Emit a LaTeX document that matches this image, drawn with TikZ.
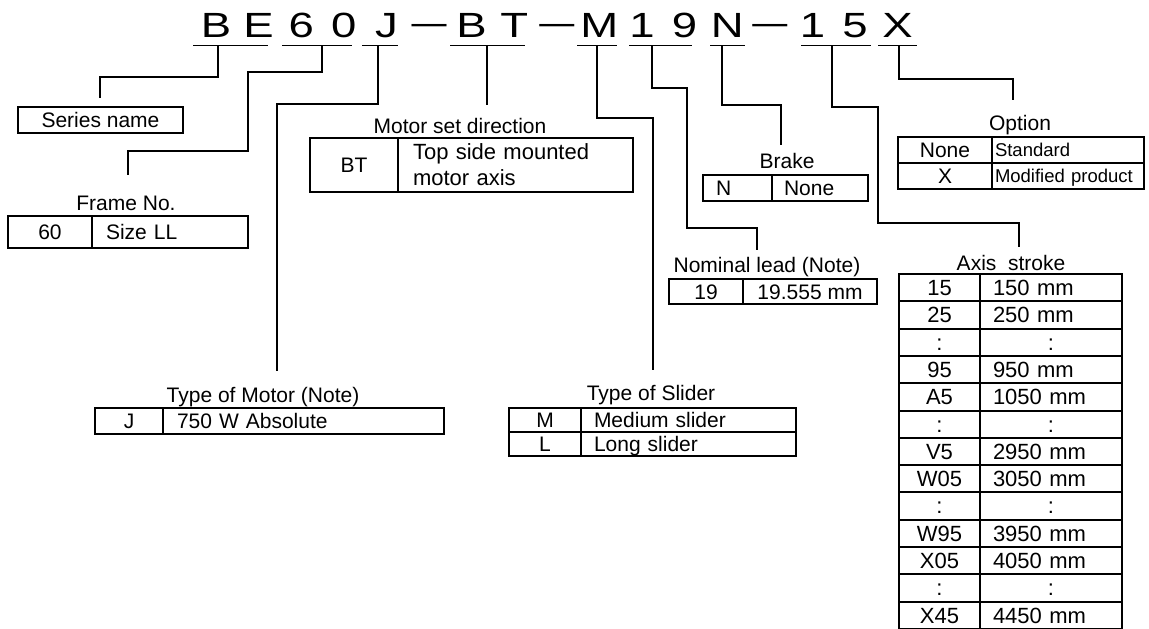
\documentclass[tikz,border=0pt]{standalone}
\usepackage{fontspec}
\setmainfont{Liberation Sans}
\newcommand\lblf{\fontsize{21}{25}\selectfont}
\newcommand\tabf{\fontsize{22}{26}\selectfont}
\newcommand\smlf{\fontsize{18.5}{22}\selectfont}
\newcommand\codef{\fontsize{35}{40}\selectfont}
\newcommand\wide[1]{\scalebox{1.3}[1]{#1}}
\newcommand\ccol{\makebox[116pt]{:}}
\begin{document}
\begin{tikzpicture}[x=1pt,y=-1pt,
  cellbase/.style={draw, line width=2pt, inner sep=0pt, anchor=north west, font=\lblf},
  box/.style={cellbase, text height=15pt, text depth=0pt},
  tbox/.style={cellbase, font=\tabf, text height=15.8pt, text depth=0pt},
  lbl/.style={anchor=base, inner sep=0pt, font=\lblf},
  code/.style={anchor=base, inner sep=0pt, font=\codef},
  leader/.style={line width=1.5pt},
  uline/.style={line width=1.7pt}]
\useasboundingbox[fill=white] (0,0) rectangle (1149,629);

% ---- code string
\node[code] (c0)  at (216.0,37) {\wide{B}};
\node[code] (c1)  at (258.6,37) {\wide{E}};
\node[code] (c2)  at (301.2,37) {\wide{6}};
\node[code] (c3)  at (343.8,37) {\wide{0}};
\node[code] (c4)  at (386.4,37) {\wide{J}};
\node[code] (c5)  at (429.0,37) {\raisebox{2.5pt}{---}};
\node[code] (c6)  at (471.6,37) {\wide{B}};
\node[code] (c7)  at (514.2,37) {\wide{T}};
\node[code] (c8)  at (556.8,37) {\raisebox{2.5pt}{---}};
\node[code] (c9)  at (599.4,37) {\wide{M}};
\node[code] (c10) at (642.0,37) {\wide{1}};
\node[code] (c11) at (684.6,37) {\wide{9}};
\node[code] (c12) at (727.2,37) {\wide{N}};
\node[code] (c13) at (769.8,37) {\raisebox{2.5pt}{---}};
\node[code] (c14) at (812.4,37) {\wide{1}};
\node[code] (c15) at (855.0,37) {\wide{5}};
\node[code] (c16) at (897.6,37) {\wide{X}};

% ---- underlines
\draw[uline] (193,45.5) -- (268,45.5);
\draw[uline] (282,45.5) -- (352,45.5);
\draw[uline] (362,45.5) -- (398,45.5);
\draw[uline] (450,45.5) -- (525,45.5);
\draw[uline] (577,45.5) -- (617,45.5);
\draw[uline] (629,45.5) -- (692,45.5);
\draw[uline] (710,45.5) -- (745,45.5);
\draw[uline] (801,45.5) -- (871,45.5);
\draw[uline] (878,45.5) -- (917,45.5);

% ---- Series name
\node[box, minimum width=165pt, minimum height=26pt] (ser) at (17,106) {Series name};

% ---- Frame No.
\node[lbl] (frlbl) at (126,210) {Frame No.};
\node[box, minimum width=84pt, minimum height=32pt] (fr1) at (7,215) {60};
\node[box, minimum width=156pt, minimum height=32pt, align=left, inner xsep=14pt, text width=128pt] (fr2) at (91,215) {Size LL};

% ---- Motor set direction
\node[lbl] (btlbl) at (460,133) {Motor set direction};
\node[box, minimum width=88pt, minimum height=54pt] (bt1) at (309,137) {BT};
\node[cellbase, font=\fontsize{22}{26}\selectfont, minimum width=235pt, minimum height=54pt, align=left, inner xsep=15pt, text width=205pt] (bt2) at (397,137) {Top side mounted\\motor axis};

% ---- Type of Motor
\node[lbl] (mlbl) at (263,402) {Type of Motor (Note)};
\node[box, minimum width=68pt, minimum height=26pt] (m1) at (94,407) {J};
\node[box, minimum width=281pt, minimum height=26pt, align=left, inner xsep=14pt, text width=253pt] (m2) at (162,407) {750 W Absolute};

% ---- Type of Slider
\node[lbl] (slbl) at (651,400) {Type of Slider};
\node[box, minimum width=72pt, minimum height=24pt] (s1) at (508,407) {M};
\node[box, minimum width=215pt, minimum height=24pt, align=left, inner xsep=13pt, text width=189pt] (s2) at (580,407) {Medium slider};
\node[box, minimum width=72pt, minimum height=24pt] (s3) at (508,431) {L};
\node[box, minimum width=215pt, minimum height=24pt, align=left, inner xsep=13pt, text width=189pt] (s4) at (580,431) {Long slider};

% ---- Nominal lead
\node[lbl] (nlbl) at (767,272) {Nominal lead (Note)};
\node[box, minimum width=74pt, minimum height=25pt] (n1) at (668,278) {19};
\node[box, minimum width=134pt, minimum height=25pt] (n2) at (742,278) {19.555 mm};

% ---- Brake
\node[lbl] (klbl) at (787,168) {Brake};
\node[box, minimum width=69pt, minimum height=26pt, align=left, inner xsep=13pt, text width=43pt] (k1) at (702,174) {N};
\node[box, minimum width=96pt, minimum height=26pt, align=left, inner xsep=12pt, text width=72pt] (k2) at (771,174) {None};

% ---- Option
\node[lbl] (olbl) at (1020,130) {Option};
\node[box, minimum width=94pt, minimum height=26pt] (o1) at (897,136) {None};
\node[box, font=\smlf, text height=13.2pt, minimum width=152pt, minimum height=26pt, align=left, inner xsep=3pt, text width=146pt] (o2) at (991,136) {Standard};
\node[box, minimum width=94pt, minimum height=26pt] (o3) at (897,162) {X};
\node[box, font=\smlf, text height=13.2pt, minimum width=152pt, minimum height=26pt, align=left, inner xsep=3pt, text width=146pt] (o4) at (991,162) {Modified product};

% ---- Axis stroke
\node[lbl] (albl) at (1011,270) {Axis\ \ stroke};
\foreach \a/\b [count=\k from 0] in {15/150 mm, 25/250 mm, :/\ccol, 95/950 mm, A5/1050 mm, :/\ccol, V5/2950 mm, W05/3050 mm, :/\ccol, W95/3950 mm, X05/4050 mm, :/\ccol, X45/4450 mm}{
  \node[tbox, minimum width=81pt, minimum height=27.3pt] (a\k) at (898,{273+27.3*\k}) {\a};
  \node[tbox, minimum width=142pt, minimum height=27.3pt, align=left, inner xsep=13pt, text width=116pt] (b\k) at (979,{273+27.3*\k}) {\b};
}

% ---- leaders
\coordinate (uBE) at (218,45.5);  \coordinate (eBE) at (100,98);
\coordinate (u60) at (322,45.5);  \coordinate (e60) at (128,175);
\coordinate (uJ)  at (378,45.5);  \coordinate (eJ)  at (277,371);
\coordinate (uBT) at (487,45.5);  \coordinate (eBT) at (487,105);
\coordinate (uM)  at (597,45.5);  \coordinate (eM)  at (653,370);
\coordinate (u19) at (652,45.5);  \coordinate (e19) at (757,250);
\coordinate (uN)  at (722,45.5);  \coordinate (eN)  at (781,145);
\coordinate (u15) at (832,45.5);  \coordinate (e15) at (1019,247);
\coordinate (uX)  at (899,45.5);  \coordinate (eX)  at (1013,100);

\draw[leader] (uBE) -- (218,77) -- (100,77) -- (eBE);
\draw[leader] (u60) -- (322,72) -- (248,72) -- (248,151) -- (128,151) -- (e60);
\draw[leader] (uJ) -- (378,104) -- (277,104) -- (eJ);
\draw[leader] (uBT) -- (eBT);
\draw[leader] (uM) -- (597,118) -- (653,118) -- (eM);
\draw[leader] (u19) -- (652,88) -- (687,88) -- (687,228) -- (757,228) -- (e19);
\draw[leader] (uN) -- (722,105) -- (781,105) -- (eN);
\draw[leader] (u15) -- (832,107) -- (878,107) -- (878,223) -- (1019,223) -- (e15);
\draw[leader] (uX) -- (899,79) -- (1013,79) -- (eX);
\end{tikzpicture}
\end{document}
